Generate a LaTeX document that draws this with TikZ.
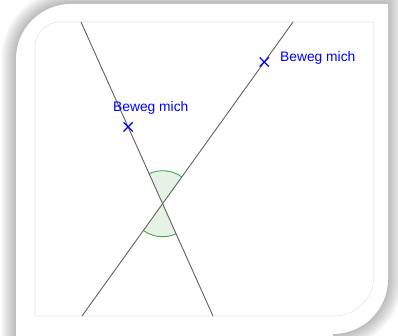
\documentclass[tikz,border=0pt]{standalone}
\usepackage{fontspec}
\newfontfamily\labelfont{Liberation Sans}
\usetikzlibrary{angles,positioning,calc,shapes.misc}

\newcommand{\cardpath}{(16,-20) -- (16,276) arc[start angle=180,end angle=90,radius=55]
  -- (388,331) -- (388,56) arc[start angle=0,end angle=-90,radius=55] -- (333,-20) -- cycle}

\tikzset{
  gline/.style={draw=black!62, line width=0.9pt},
  mover/.style={cross out, draw=blue, line width=1.2pt, minimum size=8pt, inner sep=0pt},
  beweg/.style={text=blue, font=\labelfont\fontsize{13.8}{16}\selectfont, inner sep=0pt},
  sector/.style={draw=green!50!black, draw opacity=0.7, fill=green!50!black, fill opacity=0.1,
    angle radius=33pt, line width=0.9pt}
}

\begin{document}
\begin{tikzpicture}[x=1pt,y=1pt]
\useasboundingbox (0,0) rectangle (398,335);
% Card with soft shadow
\foreach \w in {2,4,...,30}
  \draw[black, draw opacity=0.02, line width=\w pt] \cardpath;
\fill[white] \cardpath;
% Inner frame
\draw[black!10, line width=0.6pt] (35,19) -- (35,288) arc[start angle=180,end angle=90,radius=25]
  -- (374,313) -- (374,59) arc[start angle=0,end angle=-90,radius=40] -- cycle;
% End points of the two lines
\coordinate (A1) at (81,313);
\coordinate (A2) at (213,19);
\coordinate (B1) at (293,313);
\coordinate (B2) at (82,19);
\coordinate (S) at (intersection of A1--A2 and B1--B2);
% Vertical angles
\pic[sector] {angle=B1--S--A1};
\pic[sector] {angle=B2--S--A2};
% Lines
\draw[gline] (A1) -- (A2);
\draw[gline] (B1) -- (B2);
% Movable points
\node[mover] (m1) at ($(A1)!0.357!(A2)$) {};
\node[mover] (m2) at ($(B1)!0.136!(B2)$) {};
\node[beweg, anchor=base west] (t1) at (113,223) {Beweg mich};
\node[beweg, anchor=base west] (t2) at (280,273) {Beweg mich};
\end{tikzpicture}
\end{document}
